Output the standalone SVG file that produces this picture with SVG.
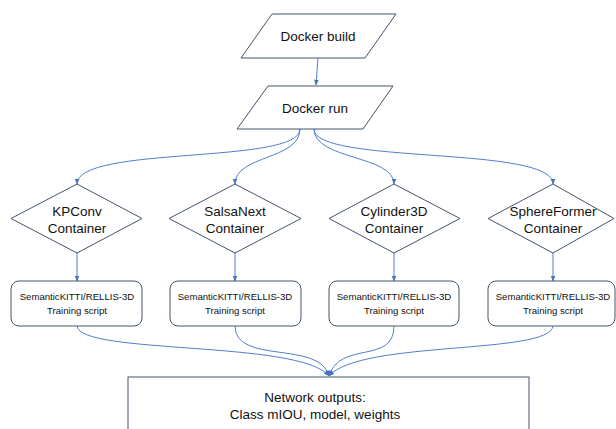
<svg xmlns="http://www.w3.org/2000/svg" width="616" height="429" viewBox="0 0 616 429">
<defs>
<style>
.shape{fill:#fff;stroke:#44546a;stroke-width:1}
.t{font-family:"Liberation Sans",Arial,sans-serif;fill:#111;text-anchor:middle}
.big{font-size:13.5px}
.sm{font-size:9.6px}
.c{fill:none;stroke:#4f7fd0;stroke-width:1}
</style>
<marker id="ah" viewBox="0 0 10 10" refX="9" refY="5" markerWidth="6" markerHeight="6" orient="auto">
<path d="M0,1 L10,5 L0,9 z" fill="#4472c4"/>
</marker>
</defs>
<rect width="616" height="429" fill="#fff"/>
<g id="connectors">
<path class="c" d="M318,58 L316,85" marker-end="url(#ah)"/>
<path class="c" d="M300,129 C300,165 77,145 77,184" marker-end="url(#ah)"/>
<path class="c" d="M300,129 C300,160 235,155 235,184" marker-end="url(#ah)"/>
<path class="c" d="M314,129 C314,160 394,155 394,184" marker-end="url(#ah)"/>
<path class="c" d="M314,129 C314,165 553,145 553,184" marker-end="url(#ah)"/>
<path class="c" d="M77,253 L77,281" marker-end="url(#ah)"/>
<path class="c" d="M235,253 L235,281" marker-end="url(#ah)"/>
<path class="c" d="M394,253 L394,281" marker-end="url(#ah)"/>
<path class="c" d="M553,253 L553,281" marker-end="url(#ah)"/>
<path class="c" d="M77,326 C80,355 300,340 329,376" marker-end="url(#ah)"/>
<path class="c" d="M235,326 C235,365 320,340 329,376" marker-end="url(#ah)"/>
<path class="c" d="M394,326 C394,365 340,340 329,376" marker-end="url(#ah)"/>
<path class="c" d="M553,326 C550,355 360,340 329,376" marker-end="url(#ah)"/>
</g>
<g id="docker-build">
<polygon class="shape" points="272,14 396,14 365,58 241,58"/>
<text class="t big" x="318" y="41">Docker build</text>
</g>
<g id="docker-run">
<polygon class="shape" points="268,86 393,86 363,129 237,129"/>
<text class="t big" x="315" y="113">Docker run</text>
</g>
<g id="kpconv">
<polygon class="shape" points="77,184 142,218.5 77,253 11,218.5"/>
<text class="t big" x="77" y="216">KPConv</text>
<text class="t big" x="77" y="233">Container</text>
</g>
<g id="salsanext">
<polygon class="shape" points="235,184 301,218.5 235,253 169,218.5"/>
<text class="t big" x="235" y="216">SalsaNext</text>
<text class="t big" x="235" y="233">Container</text>
</g>
<g id="cylinder3d">
<polygon class="shape" points="394,184 460,218.5 394,253 329,218.5"/>
<text class="t big" x="394" y="216">Cylinder3D</text>
<text class="t big" x="394" y="233">Container</text>
</g>
<g id="sphereformer">
<polygon class="shape" points="553,184 614,218.5 553,253 488,218.5"/>
<text class="t big" x="553" y="216">SphereFormer</text>
<text class="t big" x="553" y="233">Container</text>
</g>
<g id="script-kpconv">
<rect class="shape" x="11" y="281" width="131" height="45" rx="8"/>
<text class="t sm" x="77" y="300">SemanticKITTI/RELLIS-3D</text>
<text class="t sm" x="77" y="314">Training script</text>
</g>
<g id="script-salsanext">
<rect class="shape" x="170" y="281" width="131" height="45" rx="8"/>
<text class="t sm" x="235" y="300">SemanticKITTI/RELLIS-3D</text>
<text class="t sm" x="235" y="314">Training script</text>
</g>
<g id="script-cylinder3d">
<rect class="shape" x="329" y="281" width="130" height="45" rx="8"/>
<text class="t sm" x="394" y="300">SemanticKITTI/RELLIS-3D</text>
<text class="t sm" x="394" y="314">Training script</text>
</g>
<g id="script-sphereformer">
<rect class="shape" x="488" y="281" width="127" height="45" rx="8"/>
<text class="t sm" x="553" y="300">SemanticKITTI/RELLIS-3D</text>
<text class="t sm" x="553" y="314">Training script</text>
</g>
<g id="network-outputs">
<rect class="shape" x="128" y="377" width="401" height="60"/>
<text class="t big" x="315" y="402">Network outputs:</text>
<text class="t big" x="315" y="419">Class mIOU, model, weights</text>
</g>
</svg>
